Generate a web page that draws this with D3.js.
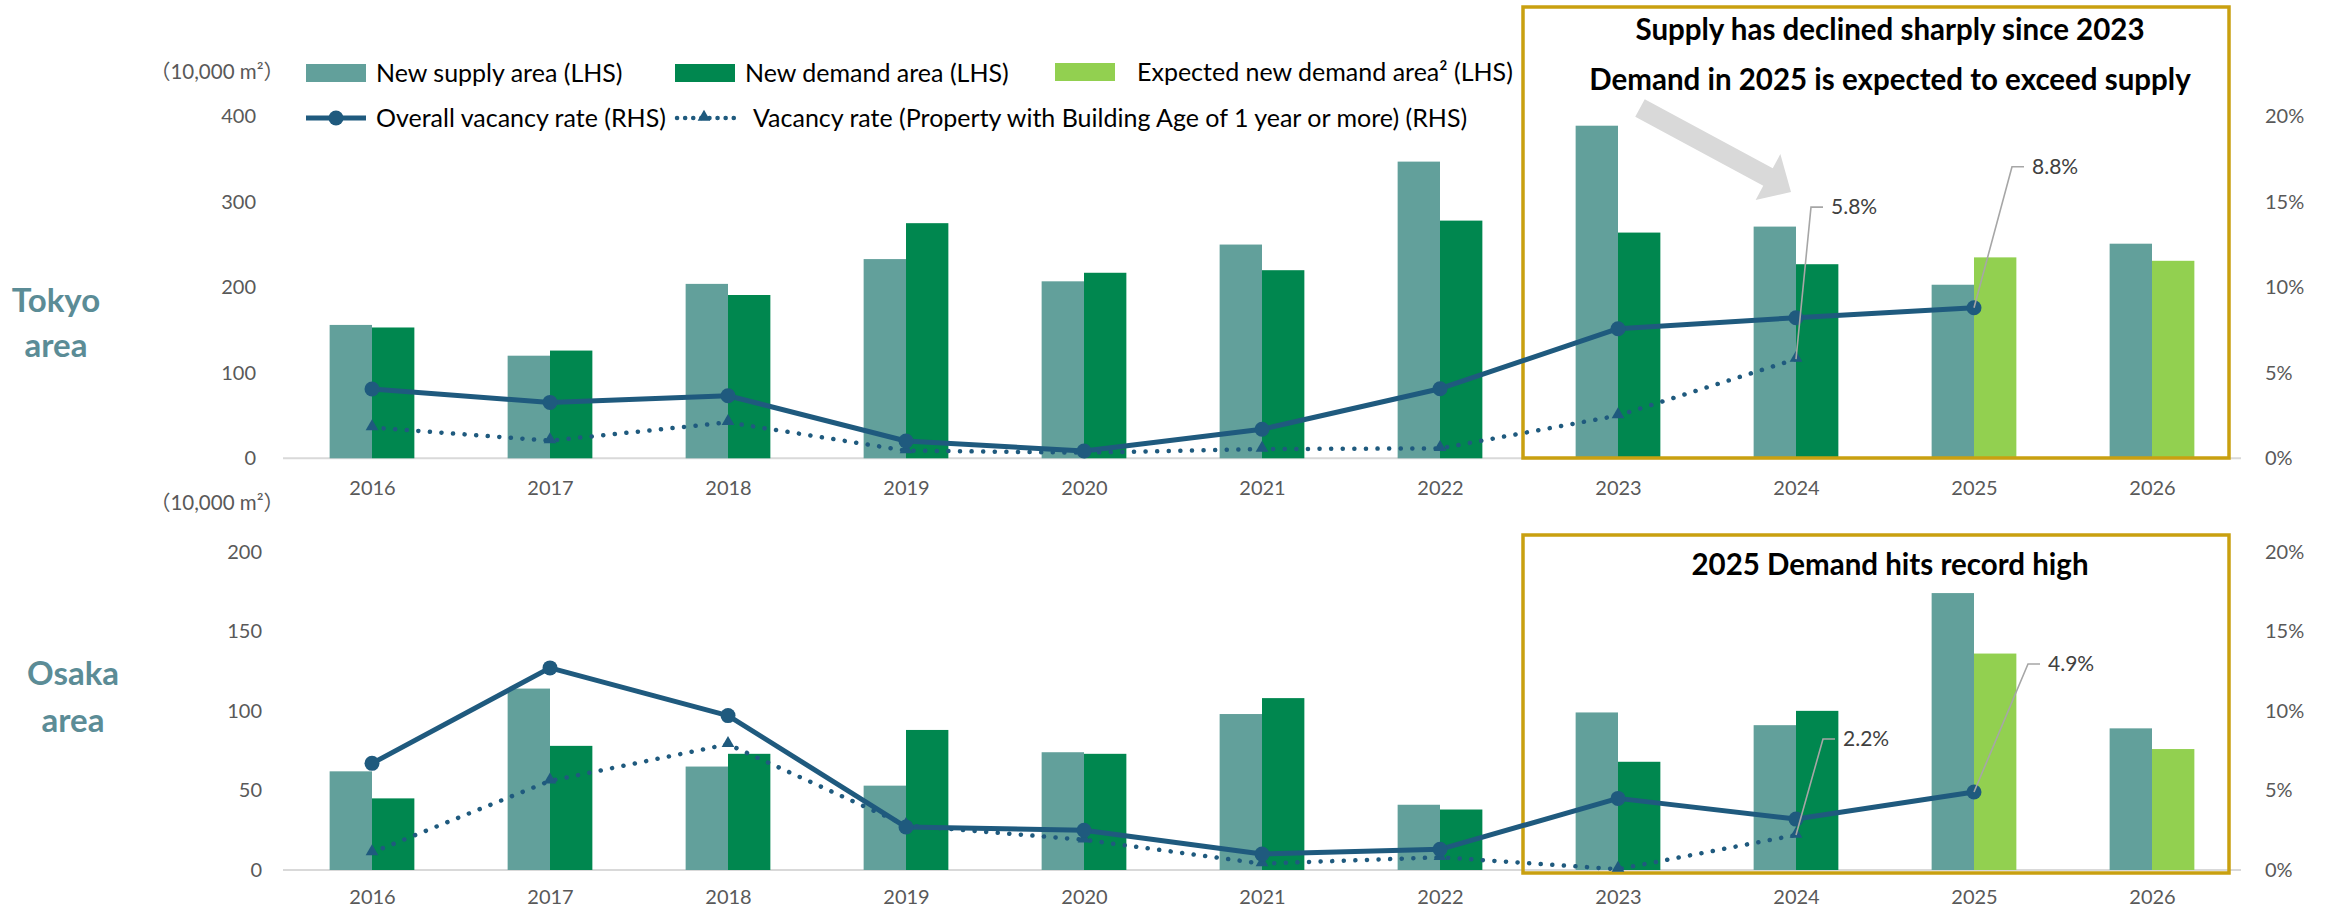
<!DOCTYPE html>
<html><head><meta charset="utf-8">
<script src="https://cdn.jsdelivr.net/npm/d3@7"></script>
<style>
body{margin:0;background:#fff;}
svg{display:block;font-family:Lato,'Noto Sans CJK JP',sans-serif;}
</style></head><body>
<svg id="c" width="2333" height="911"></svg>
<script>
// ---------- data ----------
const years = ["2016","2017","2018","2019","2020","2021","2022","2023","2024","2025","2026"];
const tokyoSupply   = [156,120,204,233,207,250,347,389,271,203,251];
const tokyoDemand   = [153,126,191,275,217,220,278,264,227,null,null];
const tokyoExpected = [null,null,null,null,null,null,null,null,null,235,231];
const tokyoVacancy   = [4.05,3.27,3.66,1.01,0.43,1.7,4.07,7.58,8.22,8.8];
const tokyoVacancy1y = [1.8,1.03,2.1,0.45,0.33,0.54,0.58,2.5,5.8];
const osakaSupply   = [62,114,65,53,74,98,41,99,91,174,89];
const osakaDemand   = [45,78,73,88,73,108,38,68,100,null,null];
const osakaExpected = [null,null,null,null,null,null,null,null,null,136,76];
const osakaVacancy   = [6.7,12.7,9.7,2.7,2.5,1.0,1.3,4.5,3.2,4.9];
const osakaVacancy1y = [1.1,5.6,7.9,2.8,1.9,0.4,0.8,0.05,2.2];
const tokyoLeftTicks = [0,100,200,300,400];
const osakaLeftTicks = [0,50,100,150,200];
const rightTicks = [0,5,10,15,20];
const legendItems = ["New supply area (LHS)","New demand area (LHS)","Expected new demand area² (LHS)",
  "Overall vacancy rate (RHS)","Vacancy rate (Property with Building Age of 1 year or more) (RHS)"];
const unitLabel = "（10,000 m²）";
const tokyoNotes = ["Supply has declined sharply since 2023","Demand in 2025 is expected to exceed supply"];
const osakaNotes = ["2025 Demand hits record high"];

// ---------- style ----------
const C = {supply:"#62a09b", demand:"#00874f", expected:"#92d050", line:"#1f5a7e",
  axis:"#595959", base:"#d9d9d9", gold:"#c9a010", region:"#5b8c96", leader:"#a6a6a6"};

const svg = d3.select("#c");
const x = d3.scalePoint().domain(years).range([283,2241]).padding(0.5);
const step = x.step();
const barW = step*0.238;

const panels = [
  {name:["Tokyo","area"], nameX:56, nameY:[300,345], base:458.3, top:116.3, lmax:400, lticks:tokyoLeftTicks,
   laxisX:256, unitY:72, xlabY:488,
   supply:tokyoSupply, demand:tokyoDemand, expected:tokyoExpected, vac:tokyoVacancy, vac1:tokyoVacancy1y,
   box:[1523,7,2229,458], notes:tokyoNotes, noteY:[30,80],
   labels:[{s:"vac1", i:8, dx:15, dy:-152, text:"5.8%"},{s:"vac", i:9, dx:38, dy:-141, text:"8.8%"}]},
  {name:["Osaka","area"], nameX:73, nameY:[673,720], base:870, top:551.7, lmax:200, lticks:osakaLeftTicks,
   laxisX:262, unitY:503, xlabY:897,
   supply:osakaSupply, demand:osakaDemand, expected:osakaExpected, vac:osakaVacancy, vac1:osakaVacancy1y,
   box:[1523,535,2229,873], notes:osakaNotes, noteY:[565],
   labels:[{s:"vac1", i:8, dx:27, dy:-96, text:"2.2%"},{s:"vac", i:9, dx:54, dy:-128, text:"4.9%"}]}
];

panels.forEach(p=>{
  const yl = d3.scaleLinear().domain([0,p.lmax]).range([p.base,p.top]);
  const yr = d3.scaleLinear().domain([0,20]).range([p.base,p.top]);
  const g = svg.append("g");

  // region name
  p.name.forEach((t,k)=>g.append("text").attr("x",p.nameX).attr("y",p.nameY[k]).attr("dy","0.35em")
    .attr("text-anchor","middle").attr("font-size",33).attr("font-weight","bold").attr("fill",C.region).text(t));

  // unit
  g.append("text").attr("x",284).attr("y",p.unitY).attr("dy","0.35em").attr("text-anchor","end")
    .attr("font-size",20.5).attr("fill",C.axis).text(unitLabel);

  // axes
  const la = g.append("g").attr("transform",`translate(${p.laxisX},0)`)
    .call(d3.axisLeft(yl).tickValues(p.lticks).tickSize(0).tickPadding(0));
  const ra = g.append("g").attr("transform",`translate(2265,0)`)
    .call(d3.axisRight(yr).tickValues(rightTicks).tickSize(0).tickPadding(0).tickFormat(d=>d+"%"));
  const xa = g.append("g").attr("transform",`translate(0,${p.xlabY})`)
    .call(d3.axisBottom(x).tickSize(0).tickPadding(0));
  [la,ra,xa].forEach(a=>{a.select(".domain").remove();
    a.selectAll("text").attr("font-size",20).attr("fill",C.axis).attr("font-family","Lato,sans-serif");});
  xa.selectAll("text").attr("dy","0.35em").attr("y",0);

  // baseline
  g.append("line").attr("x1",283).attr("x2",2241).attr("y1",p.base).attr("y2",p.base)
    .attr("stroke",C.base).attr("stroke-width",2);

  // bars
  const barData = [];
  years.forEach((yr,i)=>{
    barData.push({k:"supply", v:p.supply[i], x:x(yr)-barW, c:C.supply});
    if(p.demand[i]!=null) barData.push({k:"demand", v:p.demand[i], x:x(yr), c:C.demand});
    if(p.expected[i]!=null) barData.push({k:"expected", v:p.expected[i], x:x(yr), c:C.expected});
  });
  g.selectAll("rect.bar").data(barData).join("rect").attr("class","bar")
    .attr("x",d=>d.x).attr("width",barW).attr("y",d=>yl(d.v)).attr("height",d=>p.base-yl(d.v)).attr("fill",d=>d.c);

  // box
  const b=p.box;
  g.append("rect").attr("x",b[0]).attr("y",b[1]).attr("width",b[2]-b[0]).attr("height",b[3]-b[1])
    .attr("fill","none").attr("stroke",C.gold).attr("stroke-width",3.5);
  p.notes.forEach((t,k)=>g.append("text").attr("x",1890).attr("y",p.noteY[k]).attr("dy","0.35em")
    .attr("text-anchor","middle").attr("font-size",29.5).attr("font-weight","bold").attr("fill","#000").text(t));

  // lines
  const vacPts = p.vac.map((v,i)=>[x(years[i]),yr(v)]);
  const vac1Pts = p.vac1.map((v,i)=>[x(years[i]),yr(v)]);
  const line = d3.line();
  g.append("path").attr("d",line(vac1Pts)).attr("fill","none").attr("stroke",C.line)
    .attr("stroke-width",4.5).attr("stroke-linecap","round").attr("stroke-dasharray","0.1 11.5");
  g.selectAll("path.tri").data(vac1Pts).join("path").attr("class","tri")
    .attr("transform",d=>`translate(${d[0]},${d[1]-1})`).attr("d",d3.symbol(d3.symbolTriangle,70)).attr("fill",C.line);
  g.append("path").attr("d",line(vacPts)).attr("fill","none").attr("stroke",C.line)
    .attr("stroke-width",5).attr("stroke-linejoin","round");
  g.selectAll("circle.dot").data(vacPts).join("circle").attr("class","dot")
    .attr("cx",d=>d[0]).attr("cy",d=>d[1]).attr("r",7.5).attr("fill",C.line);

  // data labels with leaders
  p.labels.forEach(l=>{
    const pt = (l.s==="vac"?vacPts:vac1Pts)[l.i];
    const ex = pt[0]+l.dx, ey = pt[1]+l.dy;
    g.append("path").attr("d",`M${pt[0]},${pt[1]}L${ex},${ey}L${ex+12},${ey}`)
      .attr("fill","none").attr("stroke",C.leader).attr("stroke-width",1.6);
    g.append("text").attr("x",ex+20).attr("y",ey).attr("dy","0.35em").attr("font-size",21)
      .attr("fill","#404040").text(l.text);
  });
});

// arrow (annotation)
(function(){
  const tail=[1640,108], base=[1768,177], tip=[1791,192];
  const dx=base[0]-tail[0], dy=base[1]-tail[1], L=Math.hypot(dx,dy);
  const ux=dx/L, uy=dy/L, nx=-uy, ny=ux, hw=10, hh=26;
  const pts=[[tail[0]+nx*hw,tail[1]+ny*hw],[base[0]+nx*hw,base[1]+ny*hw],[base[0]+nx*hh,base[1]+ny*hh],tip,
    [base[0]-nx*hh,base[1]-ny*hh],[base[0]-nx*hw,base[1]-ny*hw],[tail[0]-nx*hw,tail[1]-ny*hw]];
  svg.append("path").attr("d","M"+pts.map(p=>p.join(",")).join("L")+"Z").attr("fill","#d9d9d9");
})();

// legend
const lg = svg.append("g").attr("font-size",25).attr("fill","#000");
const sw = [{x:306,y:73,c:C.supply},{x:675,y:73,c:C.demand},{x:1055,y:72,c:C.expected}];
sw.forEach((s,i)=>{
  lg.append("rect").attr("x",s.x).attr("y",s.y-9).attr("width",60).attr("height",18).attr("fill",s.c);
  lg.append("text").attr("x",s.x+(i==2?82:70)).attr("y",s.y).attr("dy","0.35em").text(legendItems[i]);
});
lg.append("line").attr("x1",306).attr("x2",366).attr("y1",118).attr("y2",118).attr("stroke",C.line).attr("stroke-width",5);
lg.append("circle").attr("cx",336).attr("cy",118).attr("r",7.5).attr("fill",C.line);
lg.append("text").attr("x",376).attr("y",118).attr("dy","0.35em").text(legendItems[3]);
lg.append("line").attr("x1",677).attr("x2",734).attr("y1",118).attr("y2",118).attr("stroke",C.line)
  .attr("stroke-width",4.5).attr("stroke-linecap","round").attr("stroke-dasharray","0.1 8");
lg.append("path").attr("transform","translate(704,117)").attr("d",d3.symbol(d3.symbolTriangle,70)).attr("fill",C.line);
lg.append("text").attr("x",753).attr("y",118).attr("dy","0.35em").text(legendItems[4]);
</script></body></html>
